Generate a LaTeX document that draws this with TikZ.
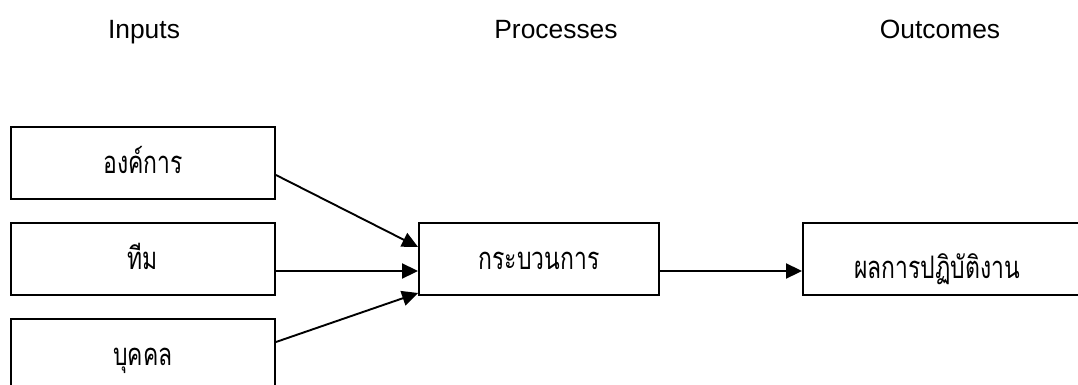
\documentclass[tikz,border=0pt]{standalone}
\usepackage{fontspec}
\setmainfont{Liberation Sans}
\newfontfamily\thaifont[Script=Thai,FakeStretch=0.74]{Loma}
\usetikzlibrary{arrows.meta,calc}
\begin{document}
\begin{tikzpicture}[x=1pt,y=-1pt,
  box/.style={draw,line width=1.9pt,minimum width=264pt,minimum height=72pt,
    inner sep=0pt,text height=20pt,text depth=0pt,
    font=\thaifont\fontsize{31}{36}\selectfont},
  thai/.style={inner sep=0pt,font=\thaifont\fontsize{31}{36}\selectfont},
  head/.style={inner sep=0pt,anchor=base,font=\fontsize{26.4}{30}\selectfont},
  link/.style={line width=1.9pt,-{Triangle[length=16pt,width=15pt]}}]
\useasboundingbox (0,0) rectangle (1078,385);
\clip (0,0) rectangle (1078,385);

% column headings
\node[head] (hin)   at (144,39) {Inputs};
\node[head] (hproc) at (556,39) {Processes};
\node[head] (hout)  at (940,39) {Outcomes};

% inputs
\node[box] (org)  at (143,163) {องค์การ};
\node[box] (team) at (143,259) {ทีม};
\node[box] (ind)  at (143,355) {บุคคล};

% process and outcome
\node[box,minimum width=240pt] (proc) at (539,259) {กระบวนการ};
\node[box,minimum width=290pt] (out) at (948,259) {};
\node[thai,anchor=base] (outtxt) at (937,278) {ผลการปฏิบัติงาน};

% connectors
\draw[link] ($(org.east)+(0,12)$) -- ($(proc.west)+(0,-12)$);
\draw[link] ($(team.east)+(0,12)$) -- ($(proc.west)+(0,12)$);
\draw[link] ($(ind.east)+(0,-13)$) -- ($(proc.west)+(0,34)$);
\draw[link] ($(proc.east)+(0,12)$) -- ($(out.west)+(0,12)$);
\end{tikzpicture}
\end{document}
